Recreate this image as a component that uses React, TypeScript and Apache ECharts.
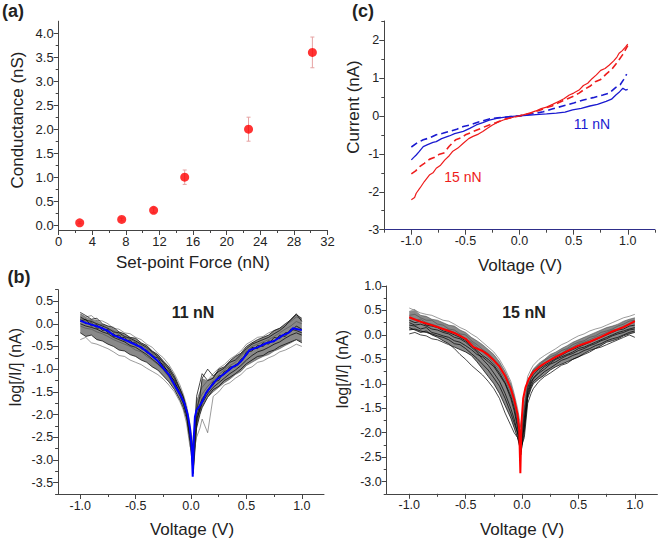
import React, { useEffect, useRef } from "react";
import * as echarts from "echarts";

// ---------- Panel (a): conductance vs set-point force ----------
const forceN = [2.5, 7.5, 11.3, 15.0, 22.6, 30.2];
const conductanceNS = [0.05, 0.12, 0.31, 1.0, 2.0, 3.6];
const conductanceErr = [0.02, 0.03, 0.05, 0.15, 0.25, 0.32];
const aXTicks = [0, 4, 8, 12, 16, 20, 24, 28, 32];
const aXMinor = [2, 6, 10, 14, 18, 22, 26, 30];
const aYTicks = [0, 0.5, 1.0, 1.5, 2.0, 2.5, 3.0, 3.5, 4.0];
const aYMinor = [0.25, 0.75, 1.25, 1.75, 2.25, 2.75, 3.25, 3.75];

// ---------- Panel (c): I-V curves ----------
const red15SolidV = [-1.0,-0.97,-0.955,-0.92,-0.88,-0.83,-0.8,-0.77,-0.73,-0.69,-0.65,-0.62,-0.57,-0.52,-0.47,-0.43,-0.38,-0.34,-0.3,-0.25,-0.2,-0.15,-0.1,-0.05,0,0.05,0.1,0.15,0.2,0.25,0.31,0.36,0.41,0.46,0.5,0.55,0.59,0.63,0.67,0.71,0.75,0.79,0.83,0.87,0.9,0.92,0.95,0.98,1.0];
const red15SolidI = [-2.21,-2.15,-2.04,-1.9,-1.73,-1.55,-1.5,-1.38,-1.3,-1.16,-1.05,-0.94,-0.85,-0.72,-0.6,-0.54,-0.48,-0.41,-0.33,-0.24,-0.17,-0.11,-0.07,-0.03,0,0.04,0.08,0.13,0.19,0.23,0.31,0.38,0.45,0.55,0.6,0.68,0.8,0.86,0.98,1.08,1.2,1.25,1.34,1.45,1.55,1.65,1.72,1.82,1.89];
const red15DashV = [-1.0,-0.96,-0.92,-0.88,-0.83,-0.79,-0.74,-0.7,-0.65,-0.59,-0.54,-0.5,-0.45,-0.4,-0.35,-0.28,-0.22,-0.15,-0.1,-0.05,0,0.05,0.1,0.15,0.2,0.25,0.3,0.35,0.4,0.45,0.5,0.55,0.6,0.65,0.7,0.75,0.8,0.85,0.9,0.95,1.0];
const red15DashI = [-1.53,-1.45,-1.33,-1.25,-1.14,-1.1,-1.01,-0.98,-0.8,-0.63,-0.58,-0.5,-0.44,-0.38,-0.32,-0.24,-0.18,-0.1,-0.06,-0.03,0,0.03,0.07,0.12,0.16,0.22,0.26,0.33,0.4,0.46,0.52,0.6,0.7,0.78,0.9,0.96,1.1,1.22,1.4,1.6,1.85];
const blue11SolidV = [-1.0,-0.98,-0.955,-0.93,-0.89,-0.85,-0.8,-0.77,-0.72,-0.65,-0.6,-0.52,-0.46,-0.4,-0.34,-0.28,-0.2,-0.15,-0.1,0,0.1,0.15,0.25,0.34,0.42,0.49,0.57,0.65,0.72,0.8,0.85,0.89,0.92,0.955,0.98,1.0];
const blue11SolidI = [-1.16,-1.1,-1.03,-0.95,-0.81,-0.76,-0.7,-0.68,-0.6,-0.53,-0.47,-0.41,-0.33,-0.24,-0.18,-0.11,-0.06,-0.04,-0.02,0,0.02,0.03,0.05,0.07,0.1,0.16,0.2,0.26,0.3,0.38,0.44,0.55,0.62,0.73,0.68,0.7];
const blue11DashV = [-1.0,-0.95,-0.89,-0.83,-0.77,-0.71,-0.65,-0.58,-0.52,-0.46,-0.4,-0.34,-0.28,-0.2,-0.15,-0.08,0,0.08,0.15,0.22,0.3,0.4,0.5,0.59,0.68,0.77,0.83,0.89,0.93,0.96,0.99];
const blue11DashI = [-0.82,-0.72,-0.63,-0.58,-0.5,-0.46,-0.41,-0.35,-0.28,-0.24,-0.18,-0.13,-0.08,-0.05,-0.04,-0.02,0,0.04,0.07,0.11,0.18,0.26,0.34,0.42,0.48,0.55,0.6,0.75,0.82,0.95,1.1];
const cXTicks = [-1.0, -0.5, 0, 0.5, 1.0];
const cXMinor = [-1.25, -0.75, -0.25, 0.25, 0.75, 1.25];
const cYTicks = [-3, -2, -1, 0, 1, 2];
const cYMinor = [-2.5, -1.5, -0.5, 0.5, 1.5, 2.5];

// ---------- Panel (b): log|I| traces ----------
const traceV = [-1.0,-0.95,-0.9,-0.85,-0.8,-0.75,-0.7,-0.65,-0.6,-0.55,-0.5,-0.45,-0.4,-0.35,-0.3,-0.25,-0.2,-0.15,-0.1,-0.07,-0.04,-0.01,0.02,0.05,0.08,0.1,0.15,0.2,0.25,0.3,0.35,0.4,0.45,0.5,0.55,0.6,0.65,0.7,0.75,0.8,0.85,0.9,0.95,1.0];

const traces11 = [
  [0.22,0.15,0.18,0.08,0.06,0.0,-0.1,-0.12,-0.2,-0.22,-0.3,-0.35,-0.45,-0.52,-0.65,-0.75,-0.9,-1.1,-1.35,-1.55,-1.8,-2.2,-2.7,-1.7,-1.5,-1.4,-1.25,-1.1,-0.98,-0.9,-0.78,-0.7,-0.6,-0.45,-0.38,-0.3,-0.28,-0.2,-0.15,-0.1,-0.02,0.05,0.15,0.1],
  [0.05,0.1,-0.05,-0.02,-0.15,-0.12,-0.28,-0.25,-0.38,-0.36,-0.48,-0.5,-0.64,-0.68,-0.84,-0.9,-1.12,-1.25,-1.55,-1.68,-2.0,-2.5,-3.2,-2.2,-1.85,-1.7,-1.45,-1.35,-1.15,-1.12,-0.95,-0.95,-0.78,-0.7,-0.52,-0.55,-0.42,-0.45,-0.3,-0.33,-0.2,-0.18,-0.05,-0.12],
  [-0.2,-0.28,-0.25,-0.35,-0.38,-0.45,-0.5,-0.58,-0.6,-0.68,-0.72,-0.8,-0.85,-0.95,-1.02,-1.15,-1.28,-1.45,-1.68,-1.85,-2.1,-2.6,-3.3,-2.3,-2.0,-1.85,-1.62,-1.45,-1.38,-1.25,-1.18,-1.1,-1.0,-0.88,-0.8,-0.72,-0.7,-0.62,-0.58,-0.5,-0.45,-0.4,-0.35,-0.42],
  [-0.35,-0.3,-0.42,-0.45,-0.5,-0.55,-0.62,-0.7,-0.72,-0.8,-0.85,-0.9,-0.98,-1.05,-1.12,-1.22,-1.35,-1.5,-1.72,-1.9,-2.2,-2.7,-2.9,-2.5,-2.3,-2.1,-2.4,-1.6,-1.5,-1.35,-1.3,-1.2,-1.12,-1.0,-0.95,-0.85,-0.82,-0.75,-0.7,-0.62,-0.58,-0.52,-0.45,-0.5],
  [0.25,0.18,0.1,0.12,0.0,-0.05,-0.08,-0.18,-0.22,-0.3,-0.32,-0.42,-0.48,-0.6,-0.68,-0.82,-0.95,-1.15,-1.42,-1.6,-1.88,-2.3,-2.8,-1.9,-1.6,-1.2,-1.0,-1.15,-1.05,-0.98,-0.85,-0.8,-0.68,-0.55,-0.45,-0.4,-0.35,-0.3,-0.22,-0.15,-0.05,0.1,0.22,0.05],
  [0.1,0.0,0.02,-0.1,-0.08,-0.2,-0.22,-0.32,-0.3,-0.42,-0.42,-0.55,-0.58,-0.72,-0.75,-0.95,-1.05,-1.3,-1.5,-1.72,-1.98,-2.45,-3.0,-2.05,-1.78,-1.65,-1.5,-1.28,-1.25,-1.05,-1.02,-0.9,-0.85,-0.62,-0.6,-0.48,-0.5,-0.38,-0.4,-0.25,-0.28,-0.12,-0.15,-0.2],
  [-0.05,-0.1,-0.12,-0.18,-0.22,-0.28,-0.35,-0.4,-0.45,-0.5,-0.58,-0.62,-0.72,-0.8,-0.9,-1.02,-1.18,-1.38,-1.6,-1.78,-2.05,-2.55,-3.1,-2.2,-1.95,-1.8,-1.62,-1.5,-1.4,-1.3,-1.22,-1.12,-1.05,-0.92,-0.85,-0.78,-0.72,-0.68,-0.6,-0.55,-0.48,-0.42,-0.35,-0.38],
  [0.15,0.08,0.05,0.0,-0.05,-0.1,-0.18,-0.2,-0.28,-0.32,-0.38,-0.45,-0.52,-0.62,-0.72,-0.85,-1.0,-1.2,-1.45,-1.62,-1.9,-2.35,-2.9,-1.6,-1.3,-1.1,-1.25,-1.2,-1.0,-0.95,-0.82,-0.72,-0.65,-0.5,-0.42,-0.35,-0.3,-0.25,-0.15,-0.1,0.0,0.08,0.2,0.12],
  [0.0,-0.05,-0.08,-0.12,-0.18,-0.22,-0.3,-0.35,-0.4,-0.48,-0.52,-0.6,-0.68,-0.78,-0.88,-1.0,-1.15,-1.35,-1.58,-1.75,-2.0,-2.5,-3.0,-2.1,-1.9,-1.75,-1.55,-1.4,-1.3,-1.2,-1.1,-1.02,-0.92,-0.8,-0.7,-0.62,-0.58,-0.52,-0.45,-0.4,-0.32,-0.25,-0.2,-0.25],
  [0.12,0.05,0.08,-0.02,-0.02,-0.12,-0.15,-0.25,-0.28,-0.35,-0.4,-0.48,-0.55,-0.65,-0.75,-0.88,-1.02,-1.22,-1.48,-1.65,-1.92,-2.4,-3.1,-1.9,-1.65,-1.55,-1.38,-1.25,-1.12,-1.02,-0.92,-0.85,-0.72,-0.6,-0.5,-0.45,-0.4,-0.35,-0.28,-0.2,-0.12,-0.05,0.05,0.0],
];
const traces15 = [
  [0.55,0.5,0.45,0.42,0.4,0.35,0.3,0.28,0.22,0.15,0.1,0.02,-0.05,-0.15,-0.25,-0.35,-0.5,-0.7,-0.95,-1.2,-1.5,-1.9,-1.3,-0.85,-0.7,-0.62,-0.5,-0.42,-0.35,-0.28,-0.2,-0.15,-0.08,-0.02,0.02,0.08,0.12,0.15,0.2,0.25,0.3,0.35,0.38,0.42],
  [0.2,0.18,0.12,0.15,0.05,0.02,-0.02,-0.05,-0.12,-0.15,-0.22,-0.3,-0.4,-0.45,-0.55,-0.65,-0.82,-1.0,-1.3,-1.55,-1.9,-2.3,-1.7,-1.15,-0.95,-0.9,-0.78,-0.7,-0.6,-0.55,-0.48,-0.42,-0.38,-0.32,-0.28,-0.22,-0.18,-0.12,-0.08,-0.02,0.02,0.05,0.1,0.12],
  [0.02,0.05,0.0,-0.02,-0.08,-0.1,-0.15,-0.2,-0.25,-0.3,-0.35,-0.42,-0.55,-0.7,-0.85,-1.0,-1.2,-1.45,-1.7,-1.9,-2.1,-2.4,-2.0,-1.3,-1.1,-1.0,-0.9,-0.82,-0.72,-0.65,-0.6,-0.55,-0.5,-0.45,-0.4,-0.35,-0.28,-0.25,-0.2,-0.15,-0.1,-0.05,0.0,-0.05],
  [0.4,0.42,0.35,0.3,0.3,0.22,0.2,0.12,0.1,0.02,0.0,-0.12,-0.2,-0.3,-0.38,-0.5,-0.62,-0.85,-1.1,-1.35,-1.7,-2.1,-1.5,-1.0,-0.8,-0.72,-0.62,-0.52,-0.45,-0.4,-0.32,-0.28,-0.2,-0.15,-0.12,-0.05,-0.02,0.05,0.08,0.12,0.18,0.22,0.28,0.3],
  [0.3,0.25,0.28,0.2,0.18,0.15,0.08,0.05,0.0,-0.05,-0.12,-0.22,-0.32,-0.42,-0.5,-0.62,-0.78,-0.98,-1.25,-1.48,-1.82,-2.2,-1.6,-1.08,-0.9,-0.82,-0.7,-0.62,-0.55,-0.48,-0.42,-0.35,-0.3,-0.25,-0.2,-0.15,-0.1,-0.05,0.0,0.05,0.1,0.12,0.18,0.2],
  [0.1,0.12,0.08,0.05,0.02,-0.02,-0.05,-0.1,-0.18,-0.2,-0.28,-0.38,-0.48,-0.6,-0.72,-0.88,-1.05,-1.3,-1.6,-1.8,-2.0,-2.2,-1.9,-1.25,-1.05,-0.95,-0.85,-0.75,-0.68,-0.6,-0.52,-0.48,-0.42,-0.38,-0.32,-0.28,-0.22,-0.18,-0.12,-0.08,-0.05,0.0,0.05,0.08],
  [0.48,0.52,0.4,0.38,0.32,0.3,0.25,0.2,0.18,0.1,0.05,-0.05,-0.12,-0.2,-0.3,-0.4,-0.55,-0.75,-1.0,-1.25,-1.6,-2.0,-1.4,-0.95,-0.78,-0.7,-0.58,-0.5,-0.4,-0.35,-0.28,-0.22,-0.15,-0.1,-0.05,0.0,0.05,0.1,0.15,0.18,0.22,0.28,0.32,0.35],
  [0.25,0.2,0.22,0.18,0.12,0.1,0.05,0.02,-0.05,-0.08,-0.15,-0.25,-0.35,-0.5,-0.62,-0.78,-0.95,-1.2,-1.5,-1.72,-2.0,-2.45,-1.8,-1.2,-1.0,-0.88,-0.75,-0.65,-0.58,-0.5,-0.45,-0.4,-0.35,-0.28,-0.25,-0.2,-0.15,-0.1,-0.05,0.0,0.05,0.08,0.12,0.15],
  [0.15,0.1,0.05,0.08,0.0,-0.05,-0.12,-0.18,-0.28,-0.4,-0.5,-0.62,-0.72,-0.82,-0.95,-1.1,-1.3,-1.6,-1.85,-2.0,-2.1,-2.3,-2.1,-1.4,-1.2,-1.1,-0.95,-0.85,-0.78,-0.7,-0.62,-0.58,-0.5,-0.45,-0.38,-0.32,-0.28,-0.22,-0.15,-0.12,-0.08,-0.02,0.02,0.05],
  [0.35,0.3,0.32,0.25,0.22,0.18,0.12,0.1,0.05,0.0,-0.08,-0.15,-0.25,-0.35,-0.45,-0.58,-0.72,-0.92,-1.18,-1.42,-1.75,-2.2,-1.55,-1.05,-0.88,-0.8,-0.68,-0.58,-0.5,-0.42,-0.38,-0.3,-0.25,-0.18,-0.15,-0.1,-0.05,0.0,0.05,0.1,0.12,0.18,0.22,0.25],
];
const mean11V = [-1.0,-0.95,-0.9,-0.83,-0.75,-0.7,-0.6,-0.53,-0.45,-0.38,-0.3,-0.26,-0.2,-0.14,-0.1,-0.06,-0.03,-0.01,0.005,0.015,0.025,0.035,0.05,0.08,0.1,0.135,0.18,0.226,0.3,0.376,0.42,0.46,0.527,0.6,0.678,0.75,0.83,0.88,0.92,0.96,1.0];
const mean11I = [0.07,0.02,-0.02,-0.07,-0.16,-0.25,-0.35,-0.43,-0.52,-0.65,-0.82,-0.95,-1.12,-1.39,-1.55,-1.75,-2.0,-2.3,-2.7,-3.37,-2.5,-2.05,-1.9,-1.8,-1.72,-1.53,-1.38,-1.24,-1.1,-0.95,-0.9,-0.8,-0.58,-0.52,-0.43,-0.38,-0.25,-0.2,-0.1,-0.12,-0.14];
const mean15V = [-1.0,-0.9,-0.8,-0.7,-0.6,-0.5,-0.43,-0.35,-0.3,-0.25,-0.2,-0.15,-0.1,-0.07,-0.04,-0.025,-0.015,-0.005,0.01,0.03,0.06,0.1,0.15,0.2,0.3,0.4,0.5,0.6,0.7,0.8,0.9,1.0];
const mean15I = [0.36,0.27,0.2,0.12,0.04,-0.08,-0.25,-0.33,-0.41,-0.52,-0.65,-0.84,-1.1,-1.32,-1.62,-1.95,-2.83,-1.8,-1.3,-1.08,-0.9,-0.76,-0.66,-0.58,-0.45,-0.33,-0.22,-0.14,-0.04,0.07,0.16,0.28];
const bXTicks = [-1.0, -0.5, 0, 0.5, 1.0];
const bXMinor = [-0.75, -0.25, 0.25, 0.75];
const bLYTicks = [-3.5, -3.0, -2.5, -2.0, -1.5, -1.0, -0.5, 0, 0.5];
const bLYMinor = [-3.75, -3.25, -2.75, -2.25, -1.75, -1.25, -0.75, -0.25, 0.25, 0.75];
const bRYTicks = [-3.0, -2.5, -2.0, -1.5, -1.0, -0.5, 0, 0.5, 1.0];
const bRYMinor = [-3.25, -2.75, -2.25, -1.75, -1.25, -0.75, -0.25, 0.25, 0.75];

const FONT = "'Liberation Sans', Arial, sans-serif";
const AXIS_COLOR = "#444";
const TEXT_COLOR = "#222";

const zip = (a: number[], b: number[]) => a.map((v, i) => [v, b[i]]);
const fmt1 = (v: number) => (Math.abs(v) < 1e-9 ? "0.0" : v.toFixed(1));
const fmt0 = (v: number) => String(Math.round(v));

// band of the traces (2nd lowest .. 2nd highest at each voltage)
function envelope(traces: number[][]) {
  const lo: number[] = [];
  const hi: number[] = [];
  traceV.forEach((_, i) => {
    const vals = traces.map((t) => t[i]).sort((a, b) => a - b);
    lo.push(vals[1]);
    hi.push(vals[vals.length - 2]);
  });
  return { lo, hi };
}

function majorAxis(grid: number, dim: "x" | "y", min: number, max: number, ticks: number[], fmt: (v: number) => string, fontSize: number, lineColor = AXIS_COLOR) {
  return {
    type: "value",
    gridIndex: grid,
    position: dim === "x" ? "bottom" : "left",
    min,
    max,
    splitLine: { show: false },
    axisLine: { show: true, onZero: false, lineStyle: { color: lineColor, width: 1 } },
    axisTick: { show: true, inside: false, length: 5, customValues: ticks, lineStyle: { color: AXIS_COLOR } },
    axisLabel: { show: true, customValues: ticks, formatter: (v: number) => fmt(v), color: TEXT_COLOR, fontSize, fontFamily: FONT, margin: 5 },
  };
}
function minorAxis(grid: number, dim: "x" | "y", min: number, max: number, ticks: number[]) {
  return {
    type: "value",
    gridIndex: grid,
    position: dim === "x" ? "bottom" : "left",
    min,
    max,
    splitLine: { show: false },
    axisLine: { show: false, onZero: false },
    axisTick: { show: true, inside: false, length: 3, customValues: ticks, lineStyle: { color: AXIS_COLOR } },
    axisLabel: { show: false },
  };
}

export default function App() {
  const ref = useRef<HTMLDivElement>(null);
  useEffect(() => {
    if (!ref.current) return;
    const chart = echarts.init(ref.current, null, { renderer: "svg" });

    const grids = [
      { left: 58.7, top: 21.2, width: 268.8, height: 208.8 }, // a
      { left: 384.3, top: 21, width: 270.5, height: 208.7 }, // c
      { left: 58.1, top: 289.7, width: 265.9, height: 204.3 }, // b left
      { left: 386.7, top: 286, width: 270.7, height: 207.8 }, // b right
    ].map((g) => ({ ...g, containLabel: false, outerBoundsMode: "none", show: false }));

    const xAxis = [
      majorAxis(0, "x", 0, 32, aXTicks, fmt0, 13),
      minorAxis(0, "x", 0, 32, aXMinor),
      majorAxis(1, "x", -1.25, 1.25, cXTicks, fmt1, 12.5, "#2e2e8a"),
      minorAxis(1, "x", -1.25, 1.25, cXMinor),
      majorAxis(2, "x", -1.2, 1.2, bXTicks, fmt1, 12.5),
      minorAxis(2, "x", -1.2, 1.2, bXMinor),
      majorAxis(3, "x", -1.2, 1.2, bXTicks, fmt1, 12.5),
      minorAxis(3, "x", -1.2, 1.2, bXMinor),
    ];
    const yAxis = [
      majorAxis(0, "y", -0.1, 4.25, aYTicks, fmt1, 13),
      minorAxis(0, "y", -0.1, 4.25, aYMinor),
      majorAxis(1, "y", -3, 2.5, cYTicks, fmt0, 12.5),
      minorAxis(1, "y", -3, 2.5, cYMinor),
      majorAxis(2, "y", -3.75, 0.75, bLYTicks, fmt1, 12.5),
      minorAxis(2, "y", -3.75, 0.75, bLYMinor),
      majorAxis(3, "y", -3.25, 1.0, bRYTicks, fmt1, 12.5),
      minorAxis(3, "y", -3.25, 1.0, bRYMinor),
    ];

    const lineS = (xi: number, data: number[][], color: string, width: number, z = 2, type: any = "solid") => ({
      type: "line",
      xAxisIndex: xi,
      yAxisIndex: xi,
      data,
      showSymbol: false,
      symbol: "none",
      silent: true,
      z,
      lineStyle: { color, width, type },
    });

    const bandS = (xi: number, traces: number[][]) => {
      const { lo, hi } = envelope(traces);
      return {
        type: "custom",
        xAxisIndex: xi,
        yAxisIndex: xi,
        silent: true,
        z: 1,
        data: [[traceV[0], lo[0]]],
        renderItem: (_p: any, api: any) => {
          const pts: number[][] = [];
          traceV.forEach((v, i) => pts.push(api.coord([v, hi[i]])));
          for (let i = traceV.length - 1; i >= 0; i--) pts.push(api.coord([traceV[i], lo[i]]));
          return { type: "polygon", shape: { points: pts }, style: { fill: "rgba(20,20,20,0.5)" } };
        },
      };
    };

    const series: any[] = [
      {
        type: "custom",
        xAxisIndex: 0,
        yAxisIndex: 0,
        data: forceN.map((f, i) => [f, conductanceNS[i], conductanceErr[i]]),
        encode: { x: 0, y: 1 },
        z: 2,
        renderItem: (_p: any, api: any) => {
          const x = api.value(0), y = api.value(1), e = api.value(2);
          const t = api.coord([x, y + e]);
          const b = api.coord([x, y - e]);
          const st = { stroke: "#e6a3a3", lineWidth: 1 };
          return {
            type: "group",
            children: [
              { type: "line", shape: { x1: t[0], y1: t[1], x2: b[0], y2: b[1] }, style: st },
              { type: "line", shape: { x1: t[0] - 2, y1: t[1], x2: t[0] + 2, y2: t[1] }, style: st },
              { type: "line", shape: { x1: b[0] - 2, y1: b[1], x2: b[0] + 2, y2: b[1] }, style: st },
            ],
          };
        },
      },
      {
        type: "scatter",
        xAxisIndex: 0,
        yAxisIndex: 0,
        data: zip(forceN, conductanceNS),
        symbolSize: 9,
        itemStyle: { color: "#ff0000" },
        z: 3,
      },
      lineS(2, zip(blue11DashV, blue11DashI), "#1a1ad0", 1.6, 2, [7, 4]),
      lineS(2, zip(red15DashV, red15DashI), "#ee1c1c", 1.6, 2, [7, 4]),
      lineS(2, zip(blue11SolidV, blue11SolidI), "#1a1ad0", 1.3, 3),
      lineS(2, zip(red15SolidV, red15SolidI), "#ee1c1c", 1.2, 3),
      bandS(4, traces11),
      bandS(6, traces15),
    ];
    traces11.forEach((t, i) => series.push(lineS(4, zip(traceV, t), i % 3 === 0 ? "rgba(70,70,70,0.6)" : "rgba(0,0,0,0.8)", 0.9, 2)));
    series.push(lineS(4, zip(mean11V, mean11I), "#0000ff", 2, 4));
    traces15.forEach((t, i) => series.push(lineS(6, zip(traceV, t), i % 3 === 0 ? "rgba(70,70,70,0.6)" : "rgba(0,0,0,0.8)", 0.9, 2)));
    series.push(lineS(6, zip(mean15V, mean15I), "#ff0000", 2, 4));

    const txt = (x: number, y: number, text: string, size: number, opts: any = {}) => ({
      type: "text",
      x,
      y,
      rotation: opts.rotation || 0,
      style: {
        text,
        fontSize: size,
        fontFamily: FONT,
        fontWeight: opts.bold ? "bold" : "normal",
        fill: opts.color || TEXT_COLOR,
        align: "center",
        verticalAlign: "middle",
      },
      z: 10,
    });

    const graphic = [
      txt(13, 11, "(a)", 18, { bold: true }),
      txt(19, 277, "(b)", 18, { bold: true }),
      txt(363, 11, "(c)", 18, { bold: true }),
      txt(193, 262, "Set-point Force (nN)", 17),
      txt(17.5, 120, "Conductance (nS)", 17, { rotation: Math.PI / 2 }),
      txt(353, 107, "Current (nA)", 17, { rotation: Math.PI / 2 }),
      txt(520, 265, "Voltage (V)", 17),
      txt(192, 529, "Voltage (V)", 17),
      txt(522, 529, "Voltage (V)", 17),
      txt(15, 367, "log[/I/] (nA)", 16, { rotation: Math.PI / 2 }),
      txt(342, 369, "log[/I/] (nA)", 16, { rotation: Math.PI / 2 }),
      txt(193, 312, "11 nN", 16, { bold: true }),
      txt(524, 312, "15 nN", 16, { bold: true }),
      txt(592, 124, "11 nN", 14, { color: "#1a1ad0" }),
      txt(463, 177, "15 nN", 14, { color: "#ee1c1c" }),
    ];

    chart.setOption({
      animation: false,
      backgroundColor: "#ffffff",
      grid: grids,
      xAxis,
      yAxis,
      series,
      graphic,
    });
    return () => chart.dispose();
  }, []);
  return <div ref={ref} style={{ position: "absolute", left: 0, top: 0, width: 660, height: 543 }} />;
}
